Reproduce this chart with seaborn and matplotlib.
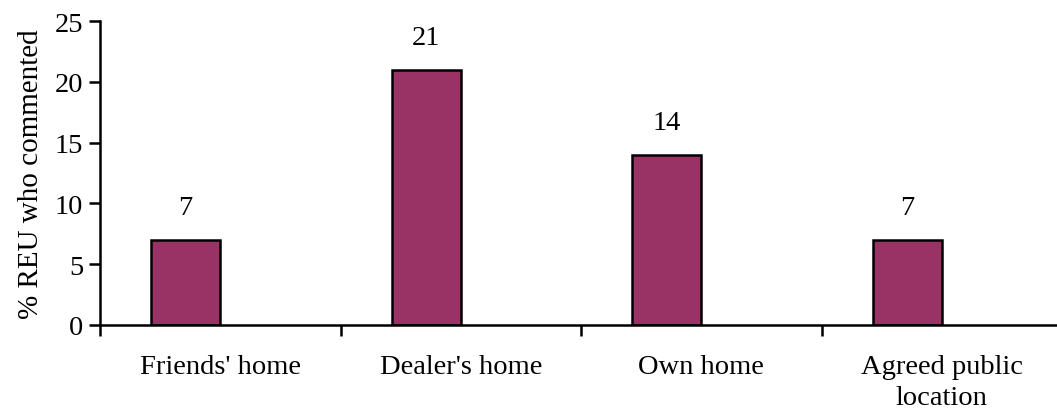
import matplotlib
matplotlib.use("Agg")
import matplotlib.pyplot as plt
import seaborn as sns
import pandas as pd
import numpy as np

categories = ["Friends' home", "Dealer's home", "Own home", "Agreed public\nlocation"]
values = [7, 21, 14, 7]
y_ticks = [0, 5, 10, 15, 20, 25]
y_label = "% REU who commented"

sns.set_theme(style="white")
plt.rcParams['font.family'] = ['Liberation Serif', 'DejaVu Serif']
plt.rcParams['text.color'] = 'black'
plt.rcParams['xtick.color'] = 'black'
plt.rcParams['ytick.color'] = 'black'
plt.rcParams['axes.labelcolor'] = 'black'

df = pd.DataFrame({
    "cat": categories * 2,
    "val": values + [np.nan] * len(values),
    "series": ["a"] * len(values) + ["b"] * len(values),
})

fig = plt.figure(figsize=(10.57, 4.14), dpi=100)
ax = fig.add_axes([100 / 1057, 88 / 414, 962 / 1057, 304 / 414])

sns.barplot(data=df, x="cat", y="val", hue="series", hue_order=["a", "b"],
            palette={"a": "#993366", "b": "#993366"}, dodge=True, width=0.574,
            saturation=1, edgecolor="black", linewidth=1.8, legend=False, ax=ax,
            errorbar=None, order=categories)

FS = 20.5
for p in ax.patches:
    h = p.get_height()
    if np.isfinite(h) and h > 0:
        ax.annotate(f"{int(round(h))}", (p.get_x() + p.get_width() / 2, h),
                    xytext=(0, 14), textcoords="offset points",
                    ha="center", va="bottom", fontsize=FS, color="black")

ax.set_xlim(-0.5, 3.5)
ax.set_ylim(0, 25)
ax.set_yticks(y_ticks)
ax.set_yticklabels([str(t) for t in y_ticks], fontsize=FS)
ax.set_xticks(range(len(categories)))
ax.set_xticklabels(categories, fontsize=FS, linespacing=1.3)
ax.set_xticks([-0.5, 0.5, 1.5, 2.5], minor=True)
ax.tick_params(axis="x", which="major", bottom=True, length=0, pad=21)
ax.tick_params(axis="x", which="minor", bottom=True, length=8, width=1.8,
               direction="out", color="black")
ax.tick_params(axis="y", which="major", left=True, length=8, width=1.8,
               direction="out", color="black", pad=4)
ax.set_xlabel("")
ax.set_ylabel(y_label, fontsize=21, labelpad=8)

for s in ["top", "right"]:
    ax.spines[s].set_visible(False)
for s in ["left", "bottom"]:
    ax.spines[s].set_color("black")
    ax.spines[s].set_linewidth(1.8)

fig.savefig("out.png", dpi=100)
